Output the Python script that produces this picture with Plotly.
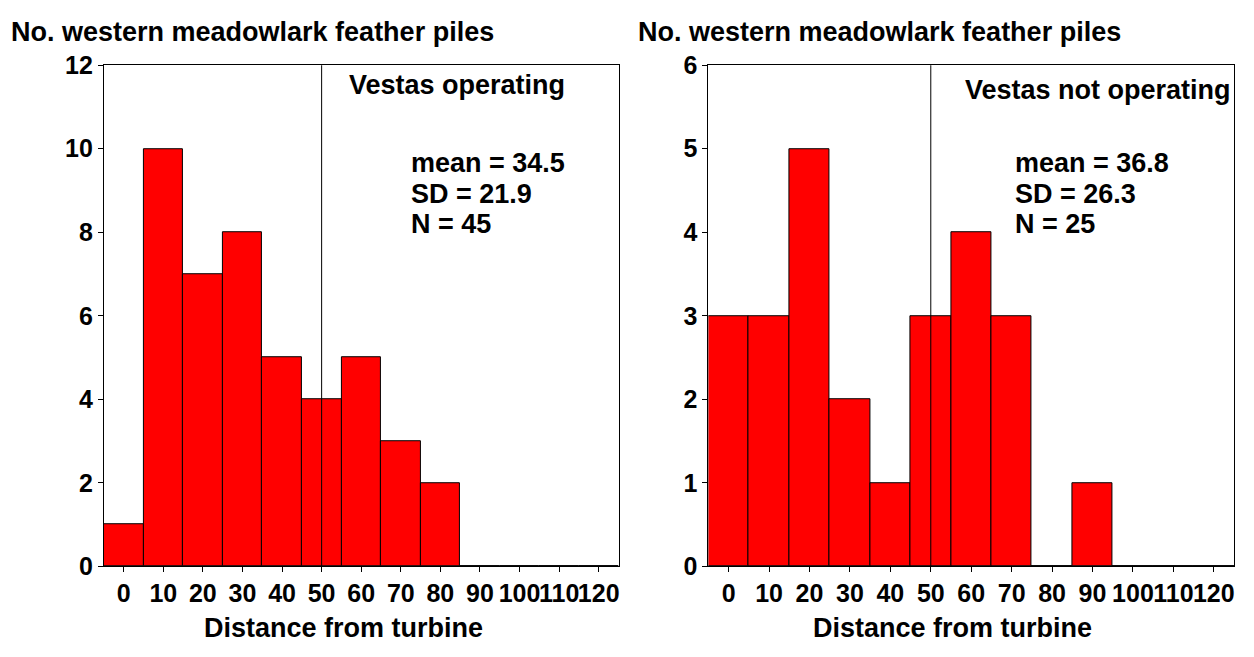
import plotly.graph_objects as go

# ---- data ----
bin_centers = [0, 10, 20, 30, 40, 50, 60, 70, 80, 90, 100, 110, 120]
tick_labels = [str(v) for v in bin_centers]
counts_operating = [1, 10, 7, 8, 5, 4, 5, 3, 2, 0, 0, 0, 0]
counts_not_operating = [3, 3, 5, 2, 1, 3, 4, 3, 0, 1, 0, 0, 0]
stats_operating = ["mean = 34.5", "SD = 21.9", "N = 45"]
stats_not_operating = ["mean = 36.8", "SD = 26.3", "N = 25"]
panel_labels = ["Vestas operating", "Vestas not operating"]
y_title = "No. western meadowlark feather piles"
x_title = "Distance from turbine"
reference_distance = 50
bin_width = 10

W, H = 1254, 657
FONT = "Liberation Sans, Arial, sans-serif"

fig = go.Figure()

bar_style = dict(color="#FF0000", line=dict(color="black", width=1))
fig.add_trace(go.Bar(x=bin_centers, y=counts_operating, width=bin_width,
                     marker=bar_style, xaxis="x", yaxis="y", showlegend=False))
fig.add_trace(go.Bar(x=bin_centers, y=counts_not_operating, width=bin_width,
                     marker=bar_style, xaxis="x2", yaxis="y2", showlegend=False))


def px_x(p):
    return p / W


def px_y(p):
    return 1 - p / H


ydom = [px_y(577), px_y(53.5)]
tickfont = dict(family=FONT, size=25, color="black")
common_x = dict(range=[-5, 125], tickvals=bin_centers,
                ticktext=[f"<b>{t}</b>" for t in tick_labels], tickangle=0,
                showline=True, linecolor="black", linewidth=1, mirror=True,
                ticks="outside", ticklen=5, tickcolor="black", showgrid=False,
                zeroline=False, tickfont=tickfont)
common_y = dict(showline=True, linecolor="black", linewidth=1, mirror=True,
                ticks="outside", ticklen=5, tickcolor="black", showgrid=False,
                zeroline=False, tickfont=tickfont, domain=ydom,
                tickprefix="<b>", ticksuffix="</b>")

fig.update_layout(
    width=W, height=H,
    margin=dict(l=0, r=0, t=0, b=0),
    paper_bgcolor="white", plot_bgcolor="white",
    bargap=0,
    font=dict(family=FONT, color="black"),
    xaxis=dict(domain=[px_x(104), px_x(619)], anchor="y", **common_x),
    yaxis=dict(range=[0, 12], dtick=2, anchor="x", **common_y),
    xaxis2=dict(domain=[px_x(709), px_x(1235)], anchor="y2", **common_x),
    yaxis2=dict(range=[0, 6], dtick=1, anchor="x2", **common_y),
)

# reference lines at 50 m
for xr, yr in [("x", "y"), ("x2", "y2")]:
    fig.add_shape(type="line", xref=xr, yref=f"{yr} domain",
                  x0=reference_distance, x1=reference_distance, y0=0, y1=1,
                  line=dict(color="black", width=1))

bold = dict(family=FONT, size=27, color="black")


def label(text, x, y, xanchor="left", font=bold):
    fig.add_annotation(text=f"<b>{text}</b>", xref="paper", yref="paper",
                       x=px_x(x), y=px_y(y), xanchor=xanchor, yanchor="middle",
                       showarrow=False, font=font)


# y-axis titles above each panel
label(y_title, 9, 19)
label(y_title, 637, 19)

# x-axis titles
label(x_title, 344, 641, xanchor="center")
label(x_title, 953, 641, xanchor="center")

# panel labels
label(panel_labels[0], 347, 74)
label(panel_labels[1], 964, 79)

for i, line in enumerate(stats_operating):
    label(line, 409, 155.5 + 32 * i)
for i, line in enumerate(stats_not_operating):
    label(line, 1014, 155.5 + 32 * i)

fig.write_html("out.html")
